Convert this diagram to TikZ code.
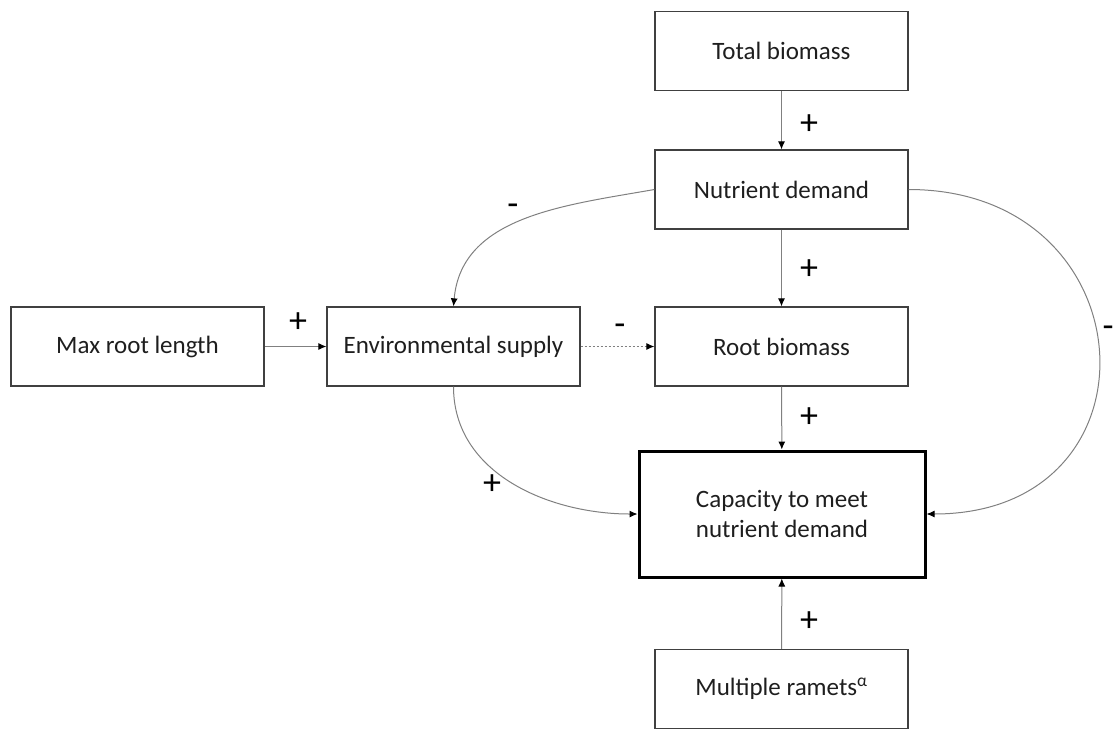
\documentclass[tikz,border=0pt]{standalone}
\usepackage{fontspec}
\setmainfont{Carlito}
\usepackage{tikz}
\usetikzlibrary{arrows.meta}
\definecolor{boxgray}{RGB}{64,64,64}
\definecolor{linegray}{RGB}{128,128,128}
\definecolor{textgray}{RGB}{30,30,30}

\begin{document}
\begin{tikzpicture}[
    x=1pt, y=-1pt,
    box/.style={draw=boxgray, line width=1.3pt, minimum width=253pt, minimum height=79pt,
                inner sep=0pt, text=textgray, font=\fontsize{25}{30}\selectfont},
    main box/.style={box, draw=black, line width=3pt, minimum width=286pt, minimum height=126pt, align=center},
    link/.style={-{Latex[length=8pt, width=7pt, color=black]}, draw=linegray, line width=1pt},
    dotted link/.style={link, dash pattern=on 2pt off 2pt},
    sign/.style={text=black, inner sep=0pt, font=\fontsize{36}{36}\selectfont}
    ]
    \useasboundingbox (0,0) rectangle (1115,729);

    % define positions
    \coordinate (TB) at (781.5,51);
    \coordinate (ND) at (781.5,189.5);
    \coordinate (RB) at (781.5,346.5);
    \coordinate (ES) at (453.5,346.5);
    \coordinate (MRL) at (137.5,346.5);
    \coordinate (CAP) at (782,514);
    \coordinate (MR) at (781.5,689);
    % boxes
    \node[box] (tb) at (TB) {Total biomass};
    \node[box] (nd) at (ND) {Nutrient demand};
    \node[box] (rb) at (RB) {Root biomass};
    \node[box] (es) at (ES) {Environmental supply};
    \node[box] (mrl) at (MRL) {Max root length};
    \node[main box] (cap) at (CAP) {Capacity to meet\\nutrient demand};
    \node[box] (mr) at (MR) {Multiple ramets\textsuperscript{α}};
    % straight links
    \draw[link] (tb) -- (nd);
    \draw[link] (nd) -- (rb);
    \draw[link] (rb) -- (cap);
    \draw[link] (mr) -- (cap);
    \draw[link] (mrl) -- (es);
    \draw[dotted link] (es) -- (rb);
    % curved links
    \draw[link] (nd.west) to[out=190, in=85] (es.north);
    \draw[link] (es.south) to[out=-90, in=180] (cap.west);
    \draw[link] (nd.east) to[out=0, in=0, looseness=1.9] (cap.east);
    % signs
    \node[sign] (s1) at (809,125) {+};
    \node[sign] (s2) at (809,270) {+};
    \node[sign] (s3) at (809,418) {+};
    \node[sign] (s4) at (809,622) {+};
    \node[sign] (s5) at (298,323) {+};
    \node[sign] (s6) at (492,485) {+};
    \node[sign] (s7) at (513,210) {-};
    \node[sign] (s8) at (620,330) {-};
    \node[sign] (s9) at (1108,332) {-};

\end{tikzpicture}
\end{document}
